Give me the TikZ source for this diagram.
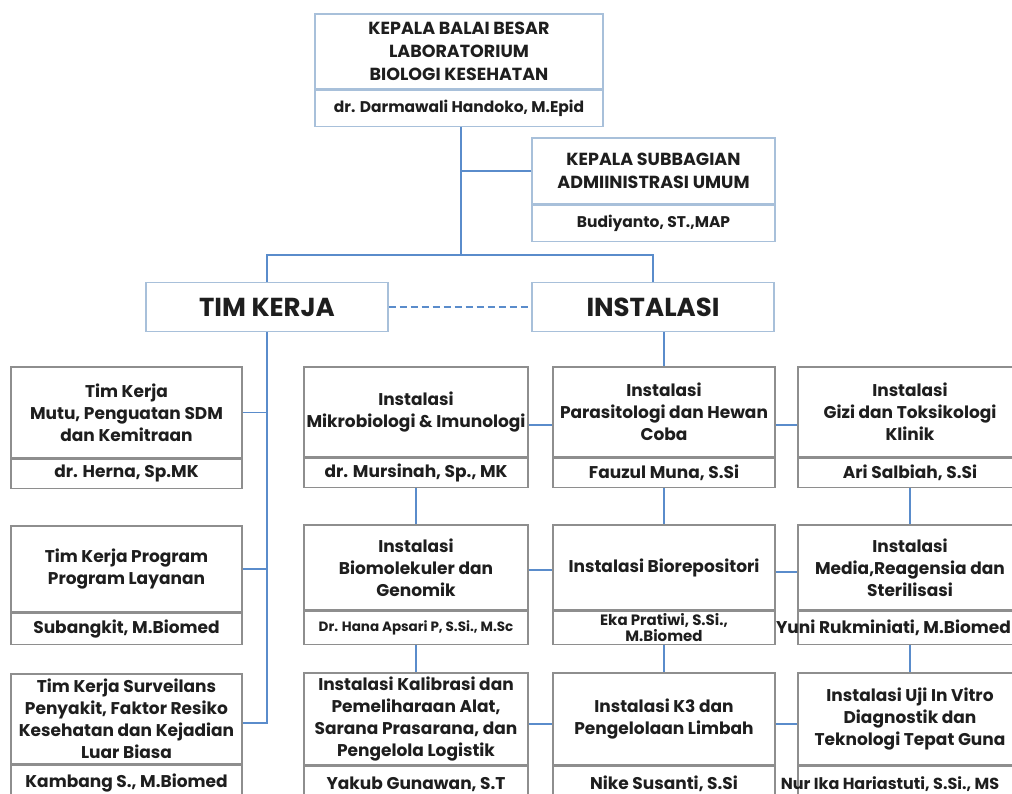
\documentclass[tikz,border=0pt]{standalone}
\usepackage{fontspec}
\setmainfont{Poppins}
\usetikzlibrary{positioning}

\definecolor{linkblue}{HTML}{5A8CCB}
\definecolor{edgeblue}{HTML}{A8C0DA}
\definecolor{edgegray}{HTML}{8E8E8E}
\definecolor{ink}{HTML}{1E1E1E}

\begin{document}
\begin{tikzpicture}[x=1pt, y=-1pt,
    headT/.style={draw=edgeblue, line width=1.2pt, fill=white, text=ink, align=center, inner sep=0pt,
        font=\bfseries\fontsize{17.5}{23}\selectfont},
    headN/.style={headT, font=\bfseries\fontsize{15.5}{18}\selectfont},
    group/.style={draw=edgeblue, line width=1.2pt, fill=white, text=ink, inner sep=0pt,
        minimum width=242pt, minimum height=49pt, font=\bfseries\fontsize{26}{30}\selectfont},
    unitT/.style={draw=edgegray, line width=1.2pt, fill=white, text=ink, align=center, inner sep=0pt,
        font=\bfseries\fontsize{17}{22}\selectfont},
    unitN/.style={unitT, font=\bfseries\fontsize{17}{18}\selectfont},
    link/.style={draw=linkblue, line width=1.6pt}]

    \path[use as bounding box] (0,0) rectangle (1012,794);
    \clip (0,0) rectangle (1012,794);

    % Kepala balai
    \node[headT, minimum width=288pt, minimum height=75pt] (kepala) at (459,51.5)
        {KEPALA BALAI BESAR\\LABORATORIUM\\BIOLOGI KESEHATAN};
    \node[headN, minimum width=288pt, minimum height=36pt, below=0pt of kepala] (kepalaN)
        {dr. Darmawali Handoko, M.Epid};

    % Subbagian
    \node[headT, minimum width=243pt, minimum height=66pt] (subbag) at (653.5,171)
        {KEPALA SUBBAGIAN\\ADMIINISTRASI UMUM};
    \node[headN, minimum width=243pt, minimum height=36pt, below=0pt of subbag] (subbagN)
        {Budiyanto, ST.,MAP};

    % Groups
    \node[group] (timkerja) at (267,307) {TIM KERJA};
    \node[group] (instalasi) at (653,307) {INSTALASI};

    % Tim kerja column
    \node[unitT, minimum width=231pt, minimum height=91pt] (tk1) at (126.5,412.5)
        {Tim Kerja\\Mutu, Penguatan SDM\\dan Kemitraan};
    \node[unitN, minimum width=231pt, minimum height=29pt, below=0pt of tk1] (tk1N) {dr. Herna, Sp.MK};

    \node[unitT, minimum width=231pt, minimum height=86pt] (tk2) at (126.5,569)
        {Tim Kerja Program\\Program Layanan};
    \node[unitN, minimum width=231pt, minimum height=31pt, below=0pt of tk2] (tk2N) {Subangkit, M.Biomed};

    \node[unitT, minimum width=231pt, minimum height=90pt] (tk3) at (126.5,719)
        {Tim Kerja Surveilans\\Penyakit, Faktor Resiko\\Kesehatan dan Kejadian\\Luar Biasa};
    \node[unitN, minimum width=231pt, minimum height=36pt, below=0pt of tk3] (tk3N) {Kambang S., M.Biomed};

    % Instalasi, first row
    \node[unitT, minimum width=224pt, minimum height=90pt] (mikro) at (416,412)
        {Instalasi\\Mikrobiologi \& Imunologi};
    \node[unitN, minimum width=224pt, minimum height=29pt, below=0pt of mikro] (mikroN) {dr. Mursinah, Sp., MK};

    \node[unitT, minimum width=222pt, minimum height=90pt] (parasit) at (664,412)
        {Instalasi\\Parasitologi dan Hewan\\Coba};
    \node[unitN, minimum width=222pt, minimum height=29pt, below=0pt of parasit] (parasitN) {Fauzul Muna, S.Si};

    \node[unitT, minimum width=224pt, minimum height=90pt] (gizi) at (910,412)
        {Instalasi\\Gizi dan Toksikologi\\Klinik};
    \node[unitN, minimum width=224pt, minimum height=29pt, below=0pt of gizi] (giziN) {Ari Salbiah, S.Si};

    % Instalasi, second row
    \node[unitT, minimum width=224pt, minimum height=85pt] (biomol) at (416,567.5)
        {Instalasi\\Biomolekuler dan\\Genomik};
    \node[unitN, minimum width=224pt, minimum height=33pt, below=0pt of biomol, font=\bfseries\fontsize{13.5}{16}\selectfont]
        (biomolN) {Dr. Hana Apsari P, S.Si., M.Sc};

    \node[unitT, minimum width=222pt, minimum height=85pt] (biorepo) at (664,567.5)
        {Instalasi Biorepositori};
    \node[unitN, minimum width=222pt, minimum height=33pt, below=0pt of biorepo, font=\bfseries\fontsize{15}{16}\selectfont]
        (biorepoN) {Eka Pratiwi, S.Si.,\\M.Biomed};

    \node[unitT, minimum width=224pt, minimum height=85pt] (media) at (910,567.5)
        {Instalasi\\Media,Reagensia dan\\Sterilisasi};
    \node[unitN, minimum width=224pt, minimum height=33pt, below=0pt of media] (mediaN)
        {\makebox[0pt]{Yuni Rukminiati, M.Biomed}\hspace{33pt}};

    % Instalasi, third row
    \node[unitT, minimum width=224pt, minimum height=92pt] (kalib) at (416,719)
        {Instalasi Kalibrasi dan\\Pemeliharaan Alat,\\Sarana Prasarana, dan\\Pengelola Logistik};
    \node[unitN, minimum width=224pt, minimum height=36pt, below=0pt of kalib] (kalibN) {Yakub Gunawan, S.T};

    \node[unitT, minimum width=222pt, minimum height=92pt] (k3) at (664,719)
        {Instalasi K3 dan\\Pengelolaan Limbah};
    \node[unitN, minimum width=222pt, minimum height=36pt, below=0pt of k3] (k3N) {Nike Susanti, S.Si};

    \node[unitT, minimum width=224pt, minimum height=92pt] (uji) at (910,719)
        {Instalasi Uji In Vitro\\Diagnostik dan\\Teknologi Tepat Guna};
    \node[unitN, minimum width=224pt, minimum height=36pt, below=0pt of uji, font=\bfseries\fontsize{16}{18}\selectfont]
        (ujiN) {\makebox[0pt]{Nur Ika Hariastuti, S.Si., MS}\hspace{40pt}};

    % Top connectors
    \coordinate (hub) at (461,255);
    \draw[link] (hub |- kepalaN.south) -- (hub);
    \draw[link] (subbag.west) -- (subbag.west -| hub);
    \draw[link] (timkerja.north) |- (hub) -| (instalasi.north);
    \draw[link, dash pattern=on 7pt off 4pt] (timkerja) -- (instalasi);

    % Tim kerja spine
    \draw[link] (timkerja.south) |- ([yshift=-4pt]tk3.east);
    \draw[link] (tk1.east) -- (tk1.east -| timkerja.south);
    \draw[link] (tk2.east) -- (tk2.east -| timkerja.south);

    % Instalasi links
    \draw[link] (instalasi.south -| parasit.north) -- (parasit.north);
    \draw[link] ([yshift=-13pt]mikro.east) -- ([yshift=-13pt]parasit.west);
    \draw[link] ([yshift=-13pt]parasit.east) -- ([yshift=-13pt]gizi.west);
    \draw[link] ([yshift=-2.5pt]biomol.east) -- ([yshift=-2.5pt]biorepo.west);
    \draw[link] ([yshift=-4.5pt]biorepo.east) -- ([yshift=-4.5pt]media.west);
    \draw[link] ([yshift=-5pt]kalib.east) -- ([yshift=-5pt]k3.west);
    \draw[link] ([yshift=-5pt]k3.east) -- ([yshift=-5pt]uji.west);
    \draw[link] (mikroN) -- (biomol);
    \draw[link] (biomolN) -- (kalib);
    \draw[link] (parasitN) -- (biorepo);
    \draw[link] (biorepoN) -- (k3);
    \draw[link] (giziN) -- (media);
    \draw[link] (mediaN) -- (uji);

\end{tikzpicture}
\end{document}
